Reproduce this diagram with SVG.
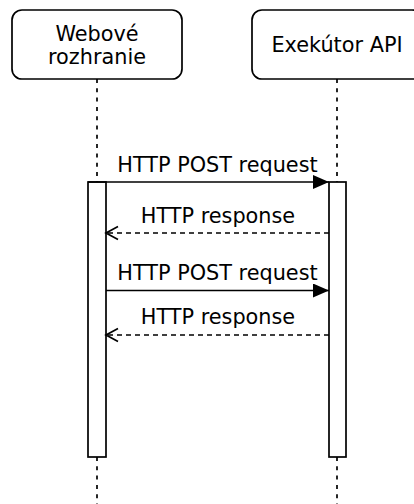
<svg xmlns="http://www.w3.org/2000/svg" width="414" height="504" viewBox="0 0 414 504">
<style>
.box{fill:#fff;stroke:#000;stroke-width:1.7}
.life{stroke:#000;stroke-width:1.7;stroke-dasharray:4 5.3;fill:none}
.bar{fill:#fff;stroke:#000;stroke-width:1.7}
.msg{stroke:#000;stroke-width:1.7;fill:none}
.ret{stroke:#000;stroke-width:1.7;fill:none;stroke-dasharray:5 4}
text{font-family:"DejaVu Sans",Verdana,sans-serif;font-size:20.8px;fill:#000;text-anchor:middle}
</style>
<defs>
<marker id="filled" markerUnits="userSpaceOnUse" markerWidth="18" markerHeight="16" refX="16" refY="7" orient="auto">
<path d="M0,0 L16,7 L0,14 Z" fill="#000"/>
</marker>
<marker id="open" markerUnits="userSpaceOnUse" markerWidth="18" markerHeight="18" refX="13" refY="8" orient="auto">
<path d="M1,1.5 L13,8 L1,14.5" fill="none" stroke="#000" stroke-width="1.7"/>
</marker>
</defs>
<g id="lifelines">
<path class="life" d="M97,79 V182 M97,457 V504"/>
<path class="life" d="M337,79 V182 M337,457 V504"/>
</g>
<g id="web">
<rect class="box" x="12" y="10" width="170" height="69" rx="10"/>
<text x="97" y="40.5">Webové</text>
<text x="97" y="63.5">rozhranie</text>
</g>
<g id="api">
<rect class="box" x="252" y="10" width="170" height="69" rx="10"/>
<text x="337" y="52">Exekútor API</text>
</g>
<g id="web-activation">
<rect class="bar" x="88" y="182" width="18" height="275"/>
</g>
<g id="api-activation">
<rect class="bar" x="329" y="182" width="17" height="275"/>
</g>
<g id="connectors">
<line class="msg" x1="88" y1="182" x2="329" y2="182" marker-end="url(#filled)"/>
<line class="ret" x1="329" y1="233" x2="106" y2="233" marker-end="url(#open)"/>
<line class="msg" x1="106" y1="290.5" x2="329" y2="290.5" marker-end="url(#filled)"/>
<line class="ret" x1="329" y1="335" x2="106" y2="335" marker-end="url(#open)"/>
<text x="217.5" y="172">HTTP POST request</text>
<text x="218" y="223">HTTP response</text>
<text x="217.5" y="280">HTTP POST request</text>
<text x="218" y="324">HTTP response</text>
</g>
</svg>
